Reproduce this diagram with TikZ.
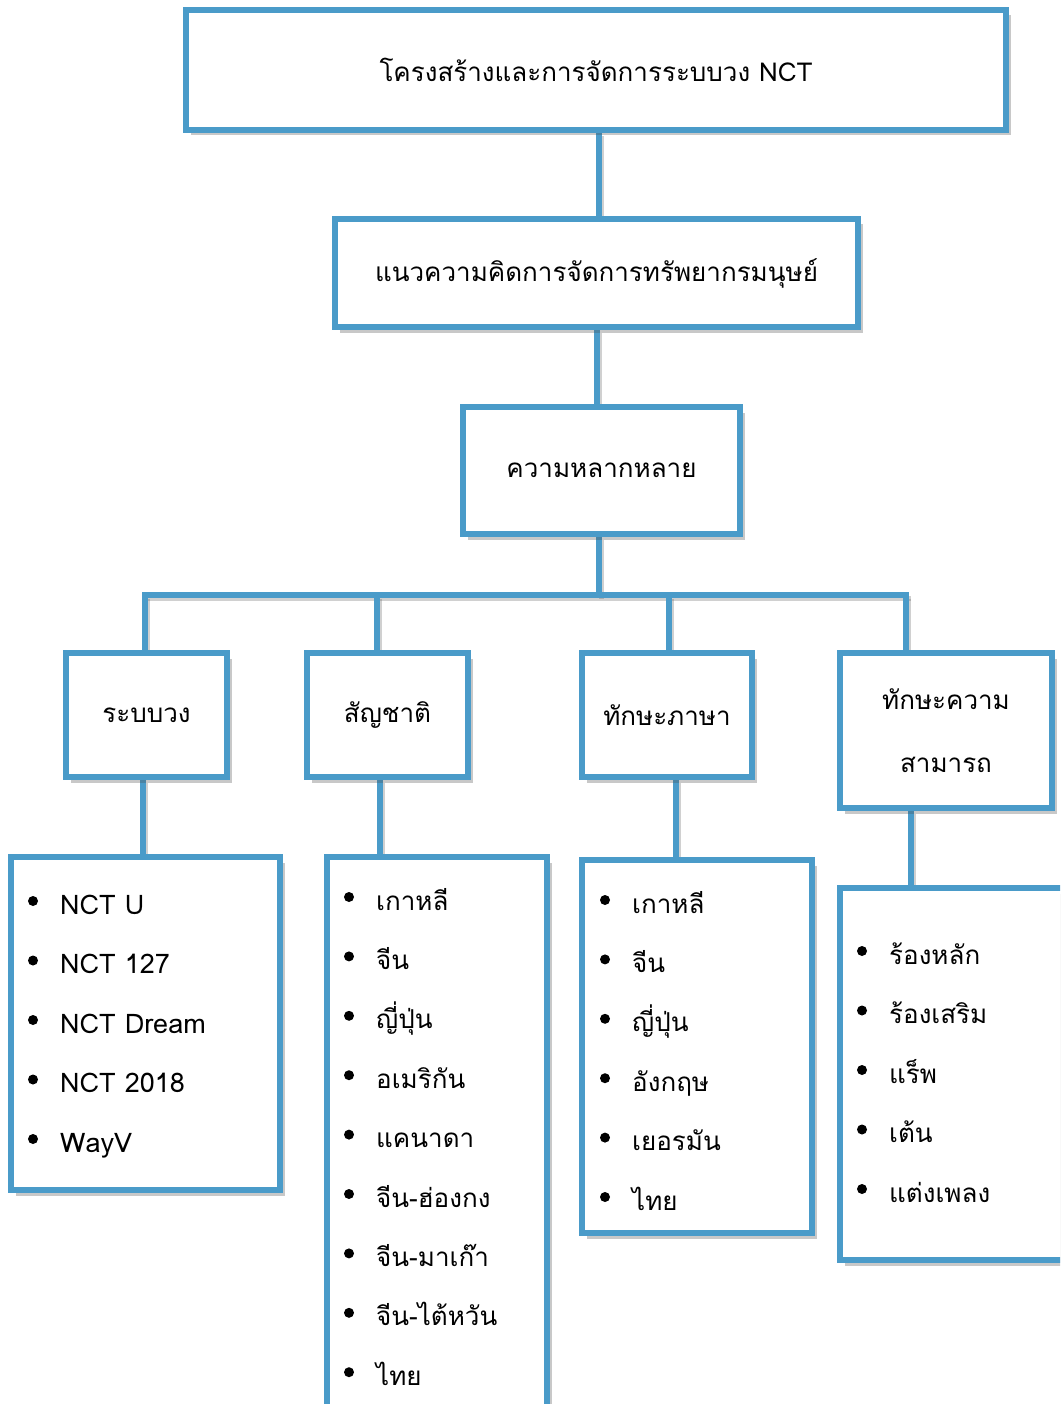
\documentclass[tikz,border=0pt]{standalone}
\usepackage{fontspec}
\setmainfont{Loma}[Script=Thai]
\usetikzlibrary{shadows,calc,backgrounds}
\definecolor{nctblue}{RGB}{74,155,201}
\tikzset{
  box/.style={draw=nctblue, line width=5.5pt, fill=white, inner sep=0pt,
    drop shadow={shadow xshift=4.5pt, shadow yshift=-5.5pt, opacity=0.3, fill=black!70},
    font=\fontsize{26}{30}\selectfont},
  link/.style={draw=nctblue, line width=5.5pt},
  linkshadow/.style={draw=black!60, opacity=0.3, line width=5.5pt, transform canvas={shift={(2.5pt,-3.5pt)}}},
  bul/.style={circle, fill=black, inner sep=0pt, minimum size=10pt},
  itm/.style={anchor=base west, inner sep=0pt, font=\fontsize{26}{30}\selectfont},
}
\begin{document}
\begin{tikzpicture}[x=1pt,y=-1pt]
\useasboundingbox (0,0) rectangle (1060,1404);
\clip (0,0) rectangle (1060,1404);

% top boxes
\node[box, minimum width=820pt, minimum height=120pt] (t1) at (596,70) {โครงสร้างและการจัดการระบบวง NCT};
\node[box, minimum width=523pt, minimum height=108pt] (t2) at (596.5,273) {แนวความคิดการจัดการทรัพยากรมนุษย์};
\node[box, minimum width=277pt, minimum height=127pt] (t3) at (601.5,470.5) {ความหลากหลาย};

% category boxes
\node[box, minimum width=161pt, minimum height=124pt] (c1) at (146.5,715) {ระบบวง};
\node[box, minimum width=161pt, minimum height=124pt] (c2) at (387.5,715) {สัญชาติ};
\node[box, minimum width=170pt, minimum height=124pt] (c3) at (667,715) {ทักษะภาษา};
\node[box, minimum width=212pt, minimum height=155pt, align=center, font=\fontsize{26}{63}\selectfont] (c4) at (946,730.5) {ทักษะความ\\สามารถ};

% list boxes
\node[box, minimum width=269pt, minimum height=333pt] (l1) at (145.5,1023.5) {};
\node[box, minimum width=220pt, minimum height=563pt] (l2) at (437,1138.5) {};
\node[box, minimum width=230pt, minimum height=373pt] (l3) at (697,1046.5) {};
\node[box, minimum width=240pt, minimum height=372pt] (l4) at (960,1074) {};

% connector coordinates
\coordinate (a1) at (599,130);
\coordinate (a2) at (597,327);
\coordinate (a3) at (599,534);
\coordinate (bar) at (599,595);
\coordinate (d1) at (145,595);
\coordinate (d2) at (377,595);
\coordinate (d3) at (669,595);
\coordinate (d4) at (906,595);
\coordinate (e1) at (143,790);
\coordinate (e2) at (380,790);
\coordinate (e3) at (676,790);
\coordinate (e4) at (911,820);

\begin{scope}[on background layer]
  \fill[white] (0,0) rectangle (1060,1404);
  \foreach \s in {linkshadow, link}{
    \draw[\s] (a1 |- t1.south) -- (a1 |- t2.north);
    \draw[\s] (a2 |- t2.south) -- (a2 |- t3.north);
    \draw[\s] (a3 |- t3.south) -- (bar);
    \draw[\s, line cap=rect] (d1) -- (d4);
    \draw[\s] (d1) -- (d1 |- c1.north);
    \draw[\s] (d2) -- (d2 |- c2.north);
    \draw[\s] (d3) -- (d3 |- c3.north);
    \draw[\s] (d4) -- (d4 |- c4.north);
    \draw[\s] (e1 |- c1.south) -- (e1 |- l1.north);
    \draw[\s] (e2 |- c2.south) -- (e2 |- l2.north);
    \draw[\s] (e3 |- c3.south) -- (e3 |- l3.north);
    \draw[\s] (e4 |- c4.south) -- (e4 |- l4.north);
  }
\end{scope}

% list items
\foreach \t [count=\i] in {NCT U, NCT 127, NCT Dream, NCT 2018, WayV}{
  \pgfmathsetmacro{\yy}{904+59.5*(\i-1)}
  \node[bul] (b1-\i) at (33,\yy-3) {};
  \node[itm, font=\fontsize{27}{30}\selectfont] (i1-\i) at (60,\yy+10) {\t};
}
\foreach \t [count=\i] in {เกาหลี, จีน, ญี่ปุ่น, อเมริกัน, แคนาดา, จีน-ฮ่องกง, จีน-มาเก๊า, จีน-ไต้หวัน, ไทย}{
  \pgfmathsetmacro{\yy}{900+59.4*(\i-1)}
  \node[bul] (b2-\i) at (349,\yy-3) {};
  \node[itm] (i2-\i) at (376,\yy+10) {\t};
}
\foreach \t [count=\i] in {เกาหลี, จีน, ญี่ปุ่น, อังกฤษ, เยอรมัน, ไทย}{
  \pgfmathsetmacro{\yy}{903+59.4*(\i-1)}
  \node[bul] (b3-\i) at (605,\yy-3) {};
  \node[itm] (i3-\i) at (632,\yy+10) {\t};
}
\foreach \t [count=\i] in {ร้องหลัก, ร้องเสริม, แร็พ, เต้น, แต่งเพลง}{
  \pgfmathsetmacro{\yy}{954+59.5*(\i-1)}
  \node[bul] (b4-\i) at (862,\yy-3) {};
  \node[itm] (i4-\i) at (889,\yy+10) {\t};
}
\end{tikzpicture}
\end{document}
